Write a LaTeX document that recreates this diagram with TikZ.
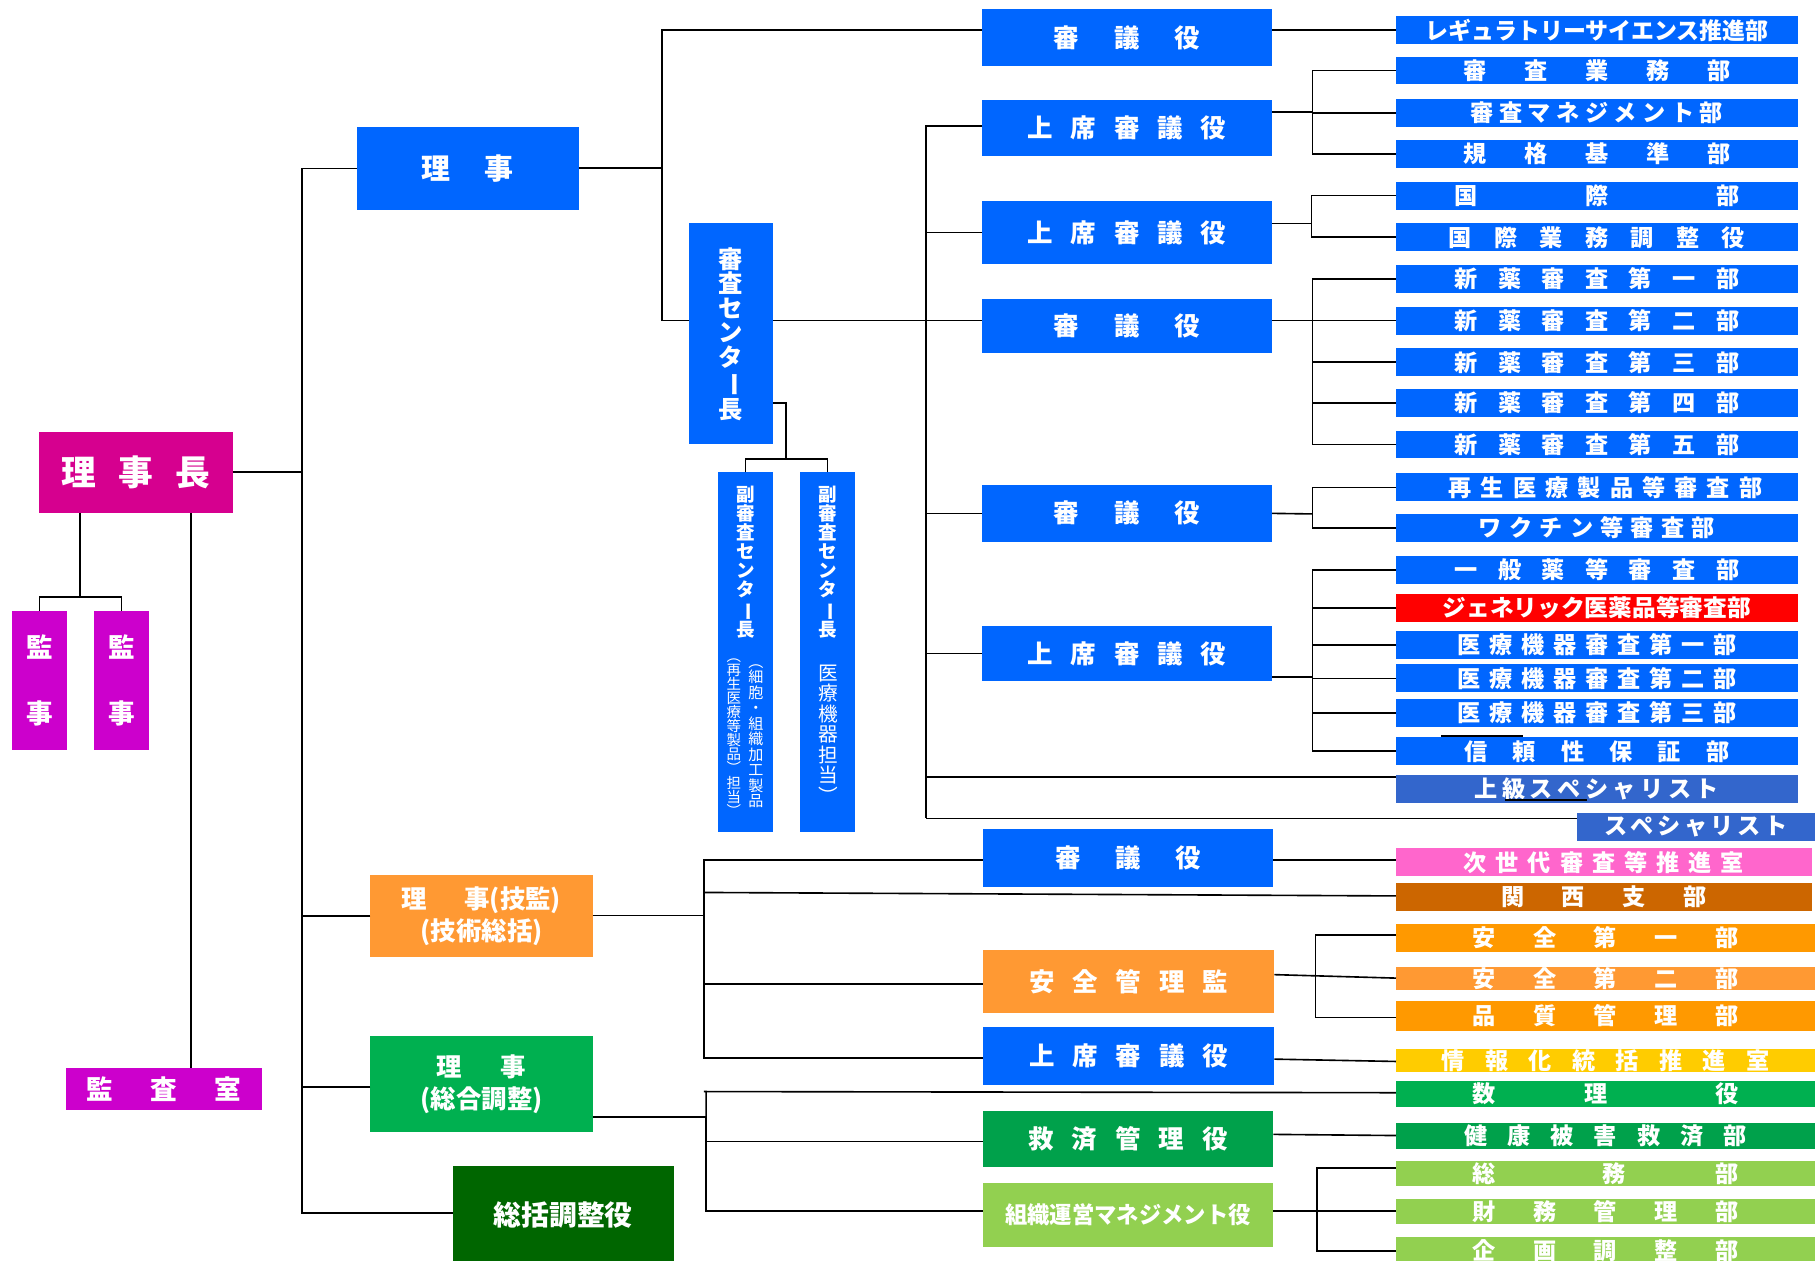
\documentclass[tikz,border=0pt]{standalone}
\usepackage{fontspec}
\setmainfont{Noto Sans CJK JP}
\usepackage{graphicx}
\usetikzlibrary{calc}
\definecolor{cblue}{RGB}{0,102,255}
\definecolor{cmag}{RGB}{214,0,143}
\definecolor{cpur}{RGB}{204,0,204}
\definecolor{corg}{RGB}{255,153,51}
\definecolor{corgb}{RGB}{255,153,0}
\definecolor{cgrn}{RGB}{0,176,80}
\definecolor{cgrnb}{RGB}{0,161,75}
\definecolor{clgrn}{RGB}{146,208,80}
\definecolor{cdgrn}{RGB}{0,102,0}
\definecolor{cyel}{RGB}{255,204,0}
\definecolor{cpink}{RGB}{255,102,204}
\definecolor{cbrn}{RGB}{204,102,0}
\definecolor{cred}{RGB}{255,0,0}
\definecolor{cspec}{RGB}{51,102,204}
\newcommand{\lb}[2]{\makebox[#1pt][s]{#2}}
\newcommand{\lc}[2]{\resizebox{#1pt}{\height}{#2}}
\newcommand{\vbar}{\rotatebox[origin=c]{-90}{ー}}
\newcommand{\bx}[8][]{\node[box,fill=#7,minimum width={(#5-#3)*1pt},minimum height={(#6-#4)*1pt},#1] (#2) at ({(#3+#5)/2},{(#4+#6)/2}) {#8};}
\begin{document}
\begin{tikzpicture}[x=1pt,y=-1pt,
  box/.style={inner sep=0pt,outer sep=0pt,text=white,align=center,font=\bfseries\fontsize{20}{22}\selectfont},
  mid/.style={font=\bfseries\fontsize{22}{24}\selectfont},
  conn/.style={line width=1.4pt,black}]
\fill[white] (0,0) rectangle (1568,1089);
\useasboundingbox (0,0) rectangle (1568,1089);

% ---------- left column ----------
\bx[font=\bfseries\fontsize{30}{32}\selectfont]{rijicho}{34}{373}{201}{443}{cmag}{\lb{129}{理\hfill 事\hfill 長}}
\bx[font=\bfseries\fontsize{23}{57}\selectfont]{kanji1}{10}{528}{58}{648}{cpur}{監\\事}
\bx[font=\bfseries\fontsize{23}{57}\selectfont]{kanji2}{81}{528}{129}{648}{cpur}{監\\事}
\bx[font=\bfseries\fontsize{23}{25}\selectfont]{kansa}{57}{923}{226}{959}{cpur}{\lb{133}{監\hfill 査\hfill 室}}
\bx[font=\bfseries\fontsize{25}{27}\selectfont]{riji}{308}{110}{500}{181}{cblue}{\lb{79}{理\hfill 事}}
\bx[font=\bfseries\fontsize{22}{27.5}\selectfont]{gikan}{320}{756}{512}{827}{corg}{理\hspace{32pt}事(技監)\\(技術総括)}
\bx[font=\bfseries\fontsize{22}{28}\selectfont]{sogo}{320}{895}{512}{978}{cgrn}{理\hspace{33pt}事\\(総合調整)}
\bx[font=\bfseries\fontsize{24}{26}\selectfont]{sokatsu}{391}{1007}{582}{1092}{cdgrn}{総括調整役}
\bx[font=\bfseries\fontsize{21}{21.2}\selectfont]{center}{595}{193}{668}{384}{cblue}{審\\査\\セ\\ン\\タ\\\vbar\\長}
\bx{fuku1}{620}{408}{668}{719}{cblue}{}
\bx{fuku2}{691}{408}{739}{719}{cblue}{}
\node[box,font=\bfseries\fontsize{16}{16.4}\selectfont] (fuku1a) at (644,486) {副\\審\\査\\セ\\ン\\タ\\\vbar\\長};
\node[box,font=\bfseries\fontsize{16}{16.4}\selectfont] (fuku2a) at (715.5,486) {副\\審\\査\\セ\\ン\\タ\\\vbar\\長};
\node[box,font=\mdseries\fontsize{12.5}{12.2}\selectfont] (fuku1b) at (634,637) {︵\\再\\生\\医\\療\\等\\製\\品\\︶\\担\\当\\︶};
\node[box,font=\mdseries\fontsize{13}{13.4}\selectfont] (fuku1c) at (653,636) {︵\\細\\胞\\・\\組\\織\\加\\工\\製\\品};
\node[box,font=\mdseries\fontsize{17}{17.7}\selectfont] (fuku2b) at (715.5,634) {医\\療\\機\\器\\担\\当\\︶};

% ---------- middle column ----------
\bx[mid]{sg1}{848}{8}{1099}{57}{cblue}{\lb{126}{審\hfill 議\hfill 役}}
\bx[mid]{js1}{848}{86}{1099}{135}{cblue}{\lb{172}{上\hfill 席\hfill 審\hfill 議\hfill 役}}
\bx[mid]{js2}{848}{174}{1099}{228}{cblue}{\lb{172}{上\hfill 席\hfill 審\hfill 議\hfill 役}}
\bx[mid]{sg2}{848}{258}{1099}{305}{cblue}{\lb{126}{審\hfill 議\hfill 役}}
\bx[mid]{sg3}{848}{419}{1099}{468}{cblue}{\lb{126}{審\hfill 議\hfill 役}}
\bx[mid]{js3}{848}{541}{1099}{588}{cblue}{\lb{172}{上\hfill 席\hfill 審\hfill 議\hfill 役}}
\bx[mid]{sg4}{849}{716}{1100}{766}{cblue}{\lb{126}{審\hfill 議\hfill 役}}
\bx[mid]{anzen}{849}{821}{1101}{875}{corg}{\lb{172}{安\hfill 全\hfill 管\hfill 理\hfill 監}}
\bx[mid]{js4}{849}{887}{1101}{937}{cblue}{\lb{172}{上\hfill 席\hfill 審\hfill 議\hfill 役}}
\bx[mid]{kyusai}{849}{960}{1100}{1008}{cgrnb}{\lb{172}{救\hfill 済\hfill 管\hfill 理\hfill 役}}
\bx{soshiki}{849}{1022}{1100}{1077}{clgrn}{\lc{212}{組織運営マネジメント役}}

% ---------- right column ----------
\bx{rs}{1206}{14}{1553}{38}{cblue}{\lc{296}{レギュラトリーサイエンス推進部}}
\bx{d1}{1206}{49}{1553}{73}{cblue}{\lb{231}{審\hfill 査\hfill 業\hfill 務\hfill 部}}
\bx{d2}{1206}{85.5}{1553}{109.5}{cblue}{\lb{218}{審\hfill 査\hfill マ\hfill ネ\hfill ジ\hfill メ\hfill ン\hfill ト\hfill 部}}
\bx{d3}{1206}{121}{1553}{145}{cblue}{\lb{231}{規\hfill 格\hfill 基\hfill 準\hfill 部}}
\bx{d4}{1206}{157}{1553}{181}{cblue}{\lb{246}{国\hfill 際\hfill 部}}
\bx{d5}{1206}{193}{1553}{217}{cblue}{\lb{256}{国\hfill 際\hfill 業\hfill 務\hfill 調\hfill 整\hfill 役}}
\bx{s1}{1206}{229}{1553}{253}{cblue}{\lb{246}{新\hfill 薬\hfill 審\hfill 査\hfill 第\hfill 一\hfill 部}}
\bx{s2}{1206}{265}{1553}{289}{cblue}{\lb{246}{新\hfill 薬\hfill 審\hfill 査\hfill 第\hfill 二\hfill 部}}
\bx{s3}{1206}{301}{1553}{325}{cblue}{\lb{246}{新\hfill 薬\hfill 審\hfill 査\hfill 第\hfill 三\hfill 部}}
\bx{s4}{1206}{336}{1553}{360}{cblue}{\lb{246}{新\hfill 薬\hfill 審\hfill 査\hfill 第\hfill 四\hfill 部}}
\bx{s5}{1206}{372}{1553}{396}{cblue}{\lb{246}{新\hfill 薬\hfill 審\hfill 査\hfill 第\hfill 五\hfill 部}}
\bx{saisei}{1206}{409}{1553}{433}{cblue}{\hspace*{15pt}\lb{271}{再\hfill 生\hfill 医\hfill 療\hfill 製\hfill 品\hfill 等\hfill 審\hfill 査\hfill 部}}
\bx{vaccine}{1206}{444}{1553}{468}{cblue}{\lb{204}{ワ\hfill ク\hfill チ\hfill ン\hfill 等\hfill 審\hfill 査\hfill 部}}
\bx{ippan}{1206}{480}{1553}{504.5}{cblue}{\lb{246}{一\hfill 般\hfill 薬\hfill 等\hfill 審\hfill 査\hfill 部}}
\bx{generic}{1206}{513}{1553}{537}{cred}{\lc{266}{ジェネリック医薬品等審査部}}
\bx{iryo1}{1206}{545}{1553}{569}{cblue}{\lb{241}{医\hfill 療\hfill 機\hfill 器\hfill 審\hfill 査\hfill 第\hfill 一\hfill 部}}
\bx{iryo2}{1206}{574}{1553}{598}{cblue}{\lb{241}{医\hfill 療\hfill 機\hfill 器\hfill 審\hfill 査\hfill 第\hfill 二\hfill 部}}
\bx{iryo3}{1206}{604}{1553}{628}{cblue}{\lb{241}{医\hfill 療\hfill 機\hfill 器\hfill 審\hfill 査\hfill 第\hfill 三\hfill 部}}
\bx{shinrai}{1206}{637}{1553}{661}{cblue}{\lb{229}{信\hfill 頼\hfill 性\hfill 保\hfill 証\hfill 部}}
\bx{joukyu}{1206}{669.5}{1553}{693.7}{cspec}{\lb{211}{上\hfill 級\hfill ス\hfill ペ\hfill シ\hfill ャ\hfill リ\hfill ス\hfill ト}}
\bx{spec}{1362}{702}{1568}{726.5}{cspec}{\lb{158}{ス\hfill ペ\hfill シ\hfill ャ\hfill リ\hfill ス\hfill ト}}
\bx{jisedai}{1206}{733}{1565}{757}{cpink}{\lb{242}{次\hfill 世\hfill 代\hfill 審\hfill 査\hfill 等\hfill 推\hfill 進\hfill 室}}
\bx{kansai}{1206}{763}{1565}{787}{cbrn}{\lb{177}{関\hfill 西\hfill 支\hfill 部}}
\bx{anzen1}{1206}{798}{1568}{822.5}{corgb}{\lb{230}{安\hfill 全\hfill 第\hfill 一\hfill 部}}
\bx{anzen2}{1206}{835.5}{1568}{855}{corg}{\lb{230}{安\hfill 全\hfill 第\hfill 二\hfill 部}}
\bx{hinshitsu}{1206}{865}{1568}{890.6}{corgb}{\lb{230}{品\hfill 質\hfill 管\hfill 理\hfill 部}}
\bx{johoka}{1206}{906}{1568}{926}{cyel}{\lb{283}{情\hfill 報\hfill 化\hfill 統\hfill 括\hfill 推\hfill 進\hfill 室}}
\bx{suri}{1206}{934}{1568}{956}{cgrn}{\lb{230}{数\hspace{77pt}理\hfill 役}}
\bx{kenko}{1206}{970}{1568}{992.6}{cgrnb}{\lb{244}{健\hfill 康\hfill 被\hfill 害\hfill 救\hfill 済\hfill 部}}
\bx{somu}{1206}{1003}{1568}{1024.6}{clgrn}{\lb{230}{総\hfill 務\hspace{78pt}部}}
\bx{zaimu}{1206}{1036}{1568}{1057}{clgrn}{\lb{230}{財\hfill 務\hfill 管\hfill 理\hfill 部}}
\bx{kikaku}{1206}{1068.7}{1568}{1092}{clgrn}{\lb{230}{企\hfill 画\hfill 調\hfill 整\hfill 部}}

% ---------- connectors ----------
\coordinate (T) at (261,408);
\draw[conn] (rijicho.east) -- (T);
\draw[conn] (riji.west) -| (T);
\draw[conn] (gikan.west) -| (T);
\draw[conn] (sogo.west |- 0,939) -| (T);
\draw[conn] (sokatsu.west |- 0,1048) -| (T);

\coordinate (K) at (69,516);
\draw[conn] (rijicho.south -| K) -- (K);
\draw[conn] (kanji1.north) |- (K);
\draw[conn] (kanji2.north) |- (K);
\coordinate (KS) at (165,923);
\draw[conn] (rijicho.south -| KS) -- (kansa.north -| KS);

\coordinate (R) at (572,145);
\coordinate (Rtop) at (572,26);
\coordinate (Rbot) at (572,277);
\draw[conn] (riji.east |- R) -- (R);
\draw[conn] (sg1.west |- Rtop) -- (Rtop) -- (Rbot) -- (center.west |- Rbot);
\draw[conn] (center.east |- Rbot) -- (sg2.west |- Rbot);
\draw[conn] (sg1.east |- Rtop) -- (rs.west |- Rtop);

\coordinate (FC) at (668,348);
\coordinate (FV) at (679,396.5);
\draw[conn] (center.east |- FC) -| (FV);
\draw[conn] (fuku1.north) |- (FV);
\draw[conn] (fuku2.north) |- (FV);

\coordinate (Vb) at (800,707);
\draw[conn] (js1.west |- 0,109) -| (Vb);
\draw[conn] (js2.west) -- (js2.west -| Vb);
\draw[conn] (sg3.west) -- (sg3.west -| Vb);
\draw[conn] (js3.west) -- (js3.west -| Vb);
\coordinate (JK) at (1206,671.5);
\draw[conn] (JK) -- (JK -| Vb);
\draw[conn] (Vb) -- (spec.west |- Vb);

\coordinate (F) at (1134,97);
\draw[conn] (js1.east |- F) -- (F);
\draw[conn] (d1.west) -| (F);
\draw[conn] (d3.west) -| (F);
\draw[conn] (d2.west) -- (d2.west -| F);

\coordinate (G) at (1133,193);
\draw[conn] (js2.east |- G) -- (G);
\draw[conn] (d4.west) -| (G);
\draw[conn] (d5.west) -| (G);

\coordinate (H) at (1134,277);
\draw[conn] (sg2.east |- H) -- (H);
\draw[conn] (s1.west) -| (H);
\draw[conn] (s5.west) -| (H);
\draw[conn] (s2.west) -- (s2.west -| H);
\draw[conn] (s3.west) -- (s3.west -| H);
\draw[conn] (s4.west) -- (s4.west -| H);

\coordinate (I) at (1134,444);
\draw[conn] (sg3.east) -- (I);
\draw[conn] (saisei.west) -| (I);
\draw[conn] (vaccine.west) -| (I);

\coordinate (Jn) at (1134,585);
\draw[conn] (js3.east |- Jn) -- (Jn);
\draw[conn] (ippan.west) -| (Jn);
\draw[conn] (shinrai.west) -| (Jn);
\draw[conn] (generic.west) -- (generic.west -| Jn);
\draw[conn] (iryo1.west) -- (iryo1.west -| Jn);
\draw[conn] (iryo2.west) -- (iryo2.west -| Jn);
\draw[conn] (iryo3.west) -- (iryo3.west -| Jn);

\coordinate (X1) at (1245,636);
\coordinate (X2) at (1316,636);
\draw[conn] (X1) -- (X2);
\coordinate (X3) at (1300,691);
\coordinate (X4) at (1371,691);
\draw[conn] (X3) -- (X4);

\coordinate (L) at (608,791);
\draw[conn] (gikan.east |- L) -- (L);
\draw[conn] (sg4.west |- 0,743) -| (L);
\draw[conn] (js4.west |- 0,914) -| (L);
\draw[conn] (kansai.west |- 0,774) -- (L |- 0,771);
\draw[conn] (anzen.west |- 0,850) -- (L |- 0,850);
\draw[conn] (sg4.east |- 0,743) -- (jisedai.west |- 0,743);

\coordinate (N) at (1136.5,843);
\draw[conn] (anzen.east |- 0,842) -- (anzen2.west |- 0,845);
\draw[conn] (anzen1.west |- 0,808) -| (N);
\draw[conn] (hinshitsu.west |- 0,879) -| (N);
\draw[conn] (js4.east |- 0,915) -- (johoka.west |- 0,917);

\coordinate (P) at (610,965);
\draw[conn] (sogo.east |- P) -- (P);
\draw[conn] (suri.west |- 0,944) -- (L |- 0,943) -| (P);
\draw[conn] (soshiki.west |- 0,1046) -| (P);
\draw[conn] (kyusai.west |- 0,986) -- (P |- 0,986);
\draw[conn] (kyusai.east |- 0,980) -- (kenko.west |- 0,981);

\coordinate (Rr) at (1137.5,1046);
\draw[conn] (soshiki.east |- Rr) -- (Rr);
\draw[conn] (somu.west |- 0,1009) -| (Rr);
\draw[conn] (kikaku.west |- 0,1081) -| (Rr);
\draw[conn] (zaimu.west |- Rr) -- (Rr);
\end{tikzpicture}
\end{document}
